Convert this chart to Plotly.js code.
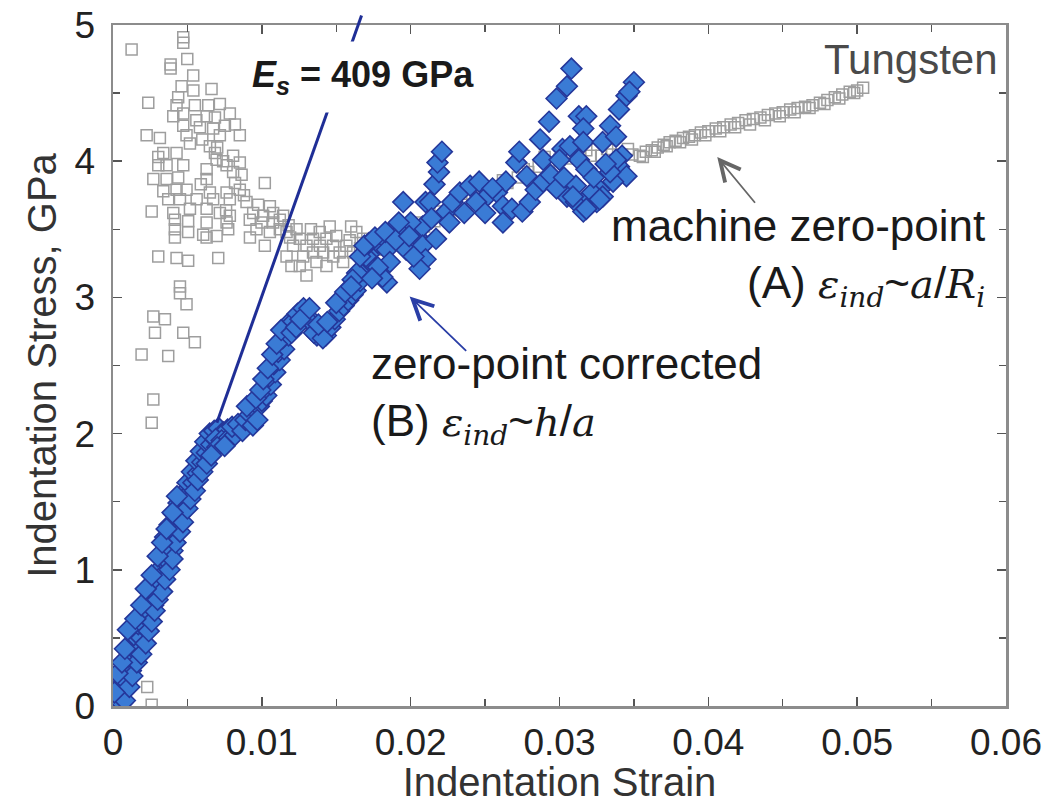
<!DOCTYPE html>
<html>
<head>
<meta charset="utf-8">
<script src="https://cdn.plot.ly/plotly-3.0.1.min.js"></script>
<style>html,body{margin:0;padding:0;background:#fff;}#chart{width:1051px;height:804px;}</style>
</head>
<body>
<div id="chart"></div>
<script>
// ---- Data ----
// Tungsten, machine zero-point (A): open grey squares
const machineX = [
0.00125,0.00472,0.00472,0.00499,0.00387,0.00387,0.00539,0.00461,0.00662,0.00237,
0.00438,0.00427,0.00550,0.00640,0.00718,0.00405,0.00472,0.00629,0.00685,0.00785,
0.00472,0.00584,0.00673,0.00752,0.00819,0.00226,0.00315,0.00494,0.00718,0.00852,
0.00517,0.00651,0.00338,0.00427,0.00685,0.00304,0.00696,0.00807,0.00304,0.00360,
0.00472,0.00629,0.00763,0.00852,0.00271,0.00360,0.00438,0.00629,0.00807,0.00864,
0.01020,0.00338,0.00427,0.00494,0.00651,0.00763,0.00852,0.00371,0.00450,0.00562,
0.00673,0.00785,0.00897,0.00975,0.01054,0.00260,0.00405,0.00517,0.00629,0.00718,
0.00785,0.00942,0.01009,0.01076,0.00416,0.00505,0.00629,0.00763,0.00919,0.00998,
0.01076,0.01121,0.00416,0.00505,0.00606,0.00696,0.00774,0.00964,0.01054,0.01121,
0.00416,0.00629,0.01020,0.00304,0.00427,0.00505,0.00707,0.00450,0.00450,0.00494,
0.00271,0.00349,0.00282,0.00472,0.00550,0.00192,0.00371,0.00271,0.00260,0.00230,
0.00260,0.00020,
0.00560,0.00600,0.00700,0.00740,0.00820,0.00880,0.00540,0.00590,0.00760,0.00920,
0.01166,0.01210,0.01166,0.01199,0.01255,0.01300,0.01344,0.01255,0.01300,0.01389,
0.01434,0.01367,0.01479,0.01523,0.01434,0.01568,0.01635,0.01680,0.01725,0.01613,
0.01546,0.01456,0.01233,0.01143,0.01344,0.01412,0.01770,0.01835,0.01190,0.01278,
0.01390,0.01500,0.01590,0.01660,0.01330,0.01600,0.01480,0.01180,
0.0188,0.0195,0.0202,0.0209,0.0216,0.0223,0.0230,0.0237,0.0244,0.0251,
0.0258,0.0265,0.0272,0.0279,0.0286,0.0293,0.0300,0.0307,0.0314,0.0321,
0.0328,0.0335,0.0342,0.0349,
0.0192,0.0206,0.0220,0.0234,0.0248,0.0262,0.0276,0.0290,0.0304,0.0318,0.0332,0.0346,
0.0354,0.0358,0.0362,0.0366,0.0370,0.0374,0.0378,0.0383,0.0387,0.0391,
0.0395,0.0400,0.0405,0.0410,0.0415,0.0420,0.0425,0.0430,0.0435,0.0440,
0.0445,0.0450,0.0455,0.0460,0.0465,0.0470,0.0475,0.0480,0.0485,0.0490,
0.0495,0.0500,0.0504,
0.0356,0.0364,0.0372,0.0381,0.0389,0.0398,0.0408,0.0418,0.0428,0.0438,
0.0448,0.0458,0.0468,0.0478,0.0488,0.0498
];
const machineY = [
4.82,4.91,4.87,4.75,4.71,4.68,4.63,4.55,4.53,4.43,
4.47,4.41,4.41,4.41,4.42,4.33,4.35,4.33,4.32,4.35,
4.26,4.25,4.24,4.26,4.27,4.19,4.17,4.19,4.19,4.19,
4.13,4.11,4.06,4.06,4.06,4.03,4.01,4.04,3.97,3.97,
3.97,3.94,3.97,3.99,3.87,3.87,3.88,3.87,3.92,3.90,
3.84,3.78,3.79,3.79,3.77,3.77,3.79,3.72,3.72,3.72,
3.72,3.72,3.70,3.68,3.67,3.63,3.62,3.65,3.65,3.62,
3.60,3.62,3.60,3.62,3.57,3.56,3.55,3.55,3.57,3.55,
3.55,3.57,3.50,3.48,3.46,3.45,3.50,3.50,3.48,3.50,
3.44,3.44,3.38,3.30,3.29,3.27,3.29,3.08,3.03,2.95,
2.86,2.84,2.74,2.74,2.67,2.58,2.57,2.25,2.08,0.14,
0.01,0.02,
4.30,4.16,4.10,4.00,3.84,3.75,4.52,3.83,3.64,3.44,
3.48,3.38,3.30,3.23,3.43,3.38,3.33,3.23,3.16,3.48,
3.43,3.26,3.38,3.33,3.23,3.38,3.48,3.43,3.38,3.33,
3.26,3.52,3.50,3.60,3.43,3.33,3.35,3.38,3.44,3.30,
3.38,3.45,3.42,3.36,3.50,3.52,3.30,3.53,
3.40,3.44,3.48,3.52,3.56,3.60,3.64,3.68,3.72,3.76,
3.80,3.84,3.88,3.92,3.96,3.99,4.01,4.02,4.03,4.04,
4.04,4.05,4.05,4.05,
3.47,3.55,3.63,3.70,3.79,3.86,3.94,4.03,4.06,4.08,4.09,4.09,
4.04,4.07,4.08,4.10,4.12,4.14,4.15,4.17,4.18,4.19,
4.21,4.22,4.24,4.25,4.27,4.28,4.30,4.31,4.32,4.34,
4.35,4.36,4.38,4.39,4.40,4.41,4.43,4.45,4.47,4.49,
4.51,4.52,4.54,
4.03,4.07,4.11,4.14,4.16,4.19,4.22,4.25,4.27,4.30,
4.33,4.36,4.39,4.42,4.46,4.50
];

// zero-point corrected (B): filled blue diamonds
const correctedX = [
0.0002,0.0004,0.0006,0.0003,0.0007,0.0005,0.0009,0.0008,0.0012,0.0010,
0.0014,0.0012,0.0016,0.0014,0.0019,0.0017,0.0021,0.0020,0.0024,0.0023,
0.0027,0.0025,0.0029,0.0028,0.0032,0.0031,0.0035,0.0033,0.0037,0.0036,
0.0040,0.0035,0.0039,0.0038,0.0043,0.0041,0.0045,0.0044,0.0048,0.0047,
0.0051,0.0050,0.0054,0.0053,0.0057,0.0056,0.0060,0.0059,0.0063,0.0062,
0.0066,0.0065,0.0068,0.0071,0.0074,0.0077,0.0069,0.0073,0.0078,0.0082,
0.0080,0.0084,0.0087,0.0070,0.0075,0.0089,0.0092,0.0095,0.0098,0.0094,
0.0097,0.0100,0.0103,0.0102,0.0106,0.0105,0.0109,0.0108,0.0112,0.0111,
0.0115,0.0114,0.0118,0.0117,0.0121,0.0124,0.0128,0.0131,0.0134,0.0137,
0.0140,0.0143,0.0146,0.0149,0.0152,0.0155,0.0158,0.0161,0.0135,0.0141,
0.0163,0.0166,0.0168,0.0172,0.0175,0.0178,0.0164,0.0170,0.0161,0.0166,
0.0172,0.0181,0.0188,0.0195,0.0184,0.0186,0.0184,0.0181,0.0197,0.0204,
0.0208,0.0208,0.0210,0.0206,0.0217,0.0195,0.0210,0.0216,0.0219,0.0218,
0.0221,0.0213,0.0224,0.0228,0.0233,0.0240,0.0246,0.0251,0.0244,0.0258,
0.0262,0.0262,0.0264,0.0268,0.0275,0.0280,0.0284,0.0289,0.0271,0.0273,
0.0278,0.0287,0.0289,0.0293,0.0298,0.0305,0.0308,0.0302,0.0307,0.0313,
0.0318,0.0316,0.0316,0.0313,0.0318,0.0311,0.0305,0.0311,0.0316,0.0325,
0.0327,0.0329,0.0334,0.0338,0.0340,0.0345,0.0350,0.0342,0.0340,0.0345,
0.0336,0.0329,0.0320,0.0318,0.0338,0.0334,0.0347,0.0300,0.0322,0.0327,
0.0309,0.0200,0.0214,0.0226,0.0236,0.0255,0.0250,0.0294,0.0298,0.0303,
0.0323,0.0331,
0.0008,0.0011,0.0013,0.0016,0.0019,0.0022,0.0024,0.0026,0.0028,0.0030,
0.0033,0.0035,0.0038,0.0040,0.0042,0.0045,0.0047,0.0050,0.0052,0.0055,
0.0057,0.0060,0.0063,0.0066,0.0001,0.0003,0.0006,0.0008,0.0010,0.0015,
0.0019,0.0022,0.0026,0.0030,0.0033,0.0036,0.0040,0.0043,
0.0090,0.0096,0.0099,0.0101,0.0104,0.0107,0.0110,0.0113,0.0120,0.0123,
0.0126,0.0132,0.0138,0.0144,0.0150,0.0156,0.0160,
0.0169,0.0176,0.0183,0.0190,0.0192,0.0199,0.0202,0.0178,0.0174
];
const correctedY = [
0.02,0.06,0.02,0.12,0.10,0.20,0.18,0.28,0.26,0.36,
0.34,0.44,0.42,0.52,0.50,0.60,0.58,0.68,0.66,0.76,
0.74,0.84,0.82,0.92,0.90,1.00,0.98,1.08,1.06,1.16,
1.14,1.24,1.25,1.33,1.32,1.41,1.40,1.49,1.48,1.56,
1.56,1.64,1.64,1.72,1.71,1.80,1.79,1.87,1.86,1.94,
1.92,2.00,2.02,2.04,2.01,2.03,1.96,1.95,1.97,1.99,
2.05,2.07,2.02,1.90,1.91,2.10,2.14,2.18,2.20,2.06,
2.10,2.24,2.28,2.33,2.36,2.42,2.45,2.51,2.54,2.60,
2.62,2.70,2.72,2.80,2.82,2.88,2.92,2.86,2.80,2.72,
2.76,2.72,2.78,2.84,2.90,2.94,2.98,3.02,2.74,2.70,
3.05,3.12,3.20,3.27,3.35,3.40,3.18,3.30,3.13,3.30,
3.40,3.45,3.50,3.50,3.35,3.26,3.11,3.15,3.35,3.45,
3.52,3.38,3.28,3.21,3.43,3.70,3.70,3.83,3.92,3.99,
4.07,3.70,3.63,3.70,3.77,3.82,3.85,3.74,3.70,3.77,
3.67,3.55,3.85,3.65,3.63,3.70,3.79,3.85,3.99,4.07,
3.89,4.16,4.01,4.29,4.46,4.55,4.68,4.09,4.11,4.33,
4.33,4.24,4.14,4.01,3.94,3.82,3.74,3.70,3.63,3.70,
3.79,4.14,4.26,4.18,4.38,4.48,4.58,4.04,3.96,3.89,
3.85,3.74,3.74,3.65,4.01,3.92,4.51,4.01,3.77,3.72,
3.74,3.55,3.58,3.55,3.62,3.80,3.62,3.90,3.80,3.88,
3.88,3.98,
0.04,0.14,0.22,0.32,0.38,0.46,0.55,0.62,0.70,0.78,
0.84,0.93,1.00,1.08,1.20,1.28,1.35,1.45,1.52,1.58,
1.66,1.72,1.78,1.84,0.10,0.24,0.32,0.42,0.56,0.64,
0.74,0.86,0.96,1.10,1.20,1.30,1.42,1.54,
2.20,2.26,2.32,2.40,2.48,2.58,2.66,2.76,2.74,2.78,
2.84,2.92,2.80,2.82,2.96,3.04,3.08,
3.38,3.44,3.48,3.42,3.55,3.45,3.30,3.22,3.14
];

// Stiffness line E_s = 409 GPa (two end points, strain / stress)
const esX = [0.00698, 0.0167];
const esY = [2.08, 5.07];

const X_RANGE = [0, 0.06];
const Y_RANGE = [0, 5];
const X_TICKS = [0, 0.01, 0.02, 0.03, 0.04, 0.05, 0.06];
const X_TICKTEXT = ['0', '0.01', '0.02', '0.03', '0.04', '0.05', '0.06'];
const Y_TICKS = [0, 1, 2, 3, 4, 5];

const FONT = 'Liberation Sans, Arial, Helvetica, sans-serif';
const MATH = "font-family:'DejaVu Serif','Liberation Serif',serif;font-style:italic;font-size:40px";

const traces = [
  {
    type: 'scatter', mode: 'markers', name: 'machine zero-point',
    x: machineX, y: machineY,
    marker: {symbol: 'square-open', size: 11, color: '#9e9e9e', line: {width: 1.5}},
    hoverinfo: 'skip'
  },
  {
    type: 'scatter', mode: 'markers', name: 'zero-point corrected',
    x: correctedX, y: correctedY,
    marker: {symbol: 'diamond', size: 16, color: '#3a7bd5', line: {width: 1.6, color: '#25379a'}},
    hoverinfo: 'skip'
  }
];

const axisCommon = {
  showgrid: false, zeroline: false, showline: true, linecolor: '#8c8c8c', linewidth: 2.5,
  mirror: 'allticks', ticks: 'inside', ticklen: 9, tickwidth: 1.6, tickcolor: '#555',
  tickfont: {family: FONT, size: 37, color: '#222'},
  fixedrange: true
};

const layout = {
  width: 1051, height: 804,
  margin: {l: 113, r: 45, t: 25, b: 98},
  paper_bgcolor: '#fff', plot_bgcolor: '#fff',
  showlegend: false,
  font: {family: FONT, color: '#222'},
  xaxis: Object.assign({}, axisCommon, {
    range: X_RANGE, tickvals: X_TICKS, ticktext: X_TICKTEXT,
    minor: {dtick: 0.005, ticks: 'inside', ticklen: 7, tickwidth: 1.4, tickcolor: '#555'},
    ticklabelstandoff: 2,
    title: {text: 'Indentation Strain', font: {family: FONT, size: 40, color: '#333'}, standoff: 5}
  }),
  yaxis: Object.assign({}, axisCommon, {
    range: Y_RANGE, tickvals: Y_TICKS,
    minor: {dtick: 0.5, ticks: 'inside', ticklen: 7, tickwidth: 1.4, tickcolor: '#555'},
    ticklabelstandoff: 8,
    title: {text: 'Indentation Stress, GPa', font: {family: FONT, size: 40, color: '#333'}, standoff: 6}
  }),
  shapes: [
    {type: 'line', xref: 'x', yref: 'paper',
     x0: esX[0], x1: esX[1],
     y0: (esY[0] - Y_RANGE[0]) / (Y_RANGE[1] - Y_RANGE[0]),
     y1: (esY[1] - Y_RANGE[0]) / (Y_RANGE[1] - Y_RANGE[0]),
     line: {color: '#1f2e96', width: 3}, layer: 'above'}
  ],
  annotations: [
    {xref: 'x', yref: 'y', x: 0.0168, y: 4.62, xanchor: 'center', yanchor: 'middle',
     text: '<b><i>E</i><sub><i>s</i></sub> = 409 GPa</b>', showarrow: false,
     bgcolor: '#ffffff', borderpad: 12,
     font: {family: FONT, size: 36, color: '#1a1a1a'}},
    {xref: 'x', yref: 'y', x: 0.0596, y: 4.75, xanchor: 'right', yanchor: 'middle',
     text: 'Tungsten', showarrow: false,
     font: {family: FONT, size: 42, color: '#4a4a4a'}},
    {xref: 'x', yref: 'y', x: 0.0587, y: 3.29, xanchor: 'right', yanchor: 'middle', align: 'right',
     text: 'machine zero-point<br>(A) <span style="' + MATH + '">ε<sub>ind</sub></span>~<span style="' + MATH + '">a</span>/<span style="' + MATH + '">R<sub>i</sub></span>',
     showarrow: false, font: {family: FONT, size: 44, color: '#1a1a1a'}},
    {xref: 'x', yref: 'y', x: 0.0172, y: 2.28, xanchor: 'left', yanchor: 'middle', align: 'left',
     text: 'zero-point corrected<br>(B) <span style="' + MATH + '">ε<sub>ind</sub></span>~<span style="' + MATH + '">h</span>/<span style="' + MATH + '">a</span>',
     showarrow: false, font: {family: FONT, size: 44, color: '#1a1a1a'}},
    {xref: 'x', yref: 'y', x: 0.01993, y: 3.007, axref: 'x', ayref: 'y', ax: 0.02383, ay: 2.596,
     text: '', showarrow: true, arrowhead: 5, arrowsize: 2.2, arrowwidth: 1.8, arrowcolor: '#2a3ea6', standoff: 0},
    {xref: 'x', yref: 'y', x: 0.0406, y: 4.03, axref: 'x', ayref: 'y', ax: 0.04322, ay: 3.684,
     text: '', showarrow: true, arrowhead: 5, arrowsize: 2.2, arrowwidth: 1.8, arrowcolor: '#666666', standoff: 0}
  ]
};

Plotly.newPlot('chart', traces, layout, {displayModeBar: false, staticPlot: true});
</script>
</body>
</html>
